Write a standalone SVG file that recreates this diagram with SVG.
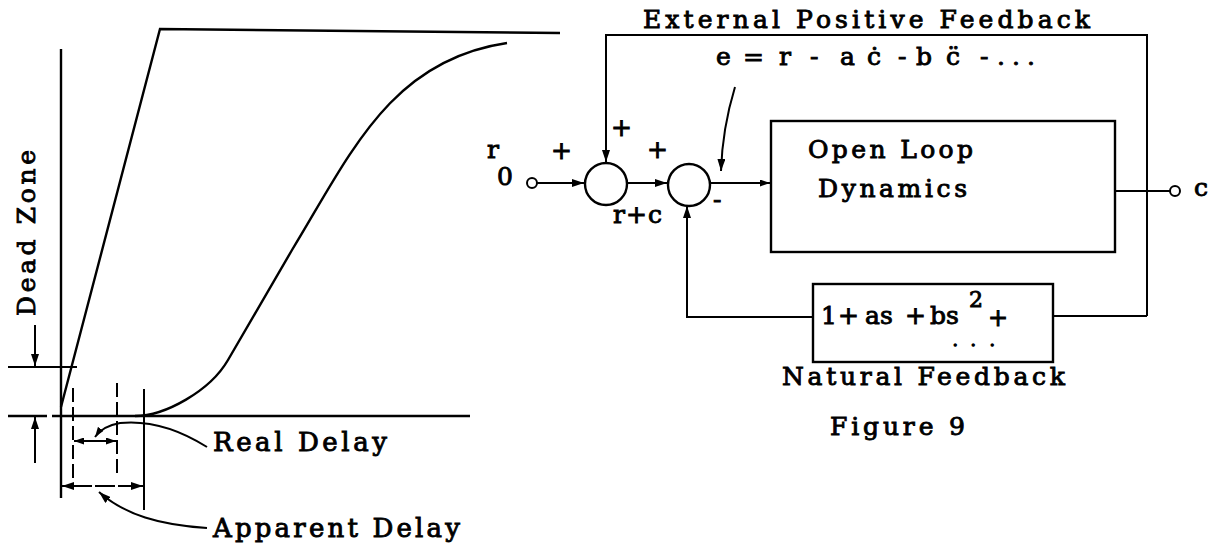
<svg xmlns="http://www.w3.org/2000/svg" width="1217" height="544" viewBox="0 0 1217 544">
<style>
.t{font-family:"DejaVu Serif","Liberation Serif",serif;font-size:25px;fill:#000;stroke:#000;stroke-width:0.9}
.ln{fill:none;stroke:#000;stroke-width:2.4}
.th{fill:none;stroke:#000;stroke-width:2}
.ds{fill:none;stroke:#000;stroke-width:2;stroke-dasharray:14 5}
.box{fill:#fff;stroke:#000;stroke-width:2.4}
</style>
<defs>
<marker id="ah" viewBox="0 0 12 8" refX="12" refY="4" markerWidth="12" markerHeight="8" markerUnits="userSpaceOnUse" orient="auto-start-reverse">
<path d="M0,0 L12,4 L0,8 z" fill="#000"/>
</marker>
<marker id="ahs" viewBox="0 0 10 7" refX="10" refY="3.5" markerWidth="10" markerHeight="7" markerUnits="userSpaceOnUse" orient="auto-start-reverse">
<path d="M0,0 L10,3.5 L0,7 z" fill="#000"/>
</marker>
</defs>
<rect width="1217" height="544" fill="#fff"/>

<!-- Left plot -->
<g id="plot">
<line class="ln" x1="61" y1="49" x2="61" y2="498"/>
<polyline class="ln" points="61,407 160,29 560,33"/>
<path class="ln" d="M135 416 C165 416 210 391 228 360 L292 250 C350 155 390 60 507 43"/>
<line class="ln" x1="52" y1="416" x2="470" y2="416"/>
<line class="ln" x1="8" y1="416" x2="47" y2="416"/>
<line class="th" x1="8" y1="367" x2="77" y2="367"/>
<line class="ds" x1="73" y1="388" x2="73" y2="478"/>
<line class="ds" x1="117" y1="383" x2="117" y2="478"/>
<line class="th" x1="144" y1="389" x2="144" y2="510"/>
</g>
<g id="dead-zone">
<line class="th" x1="35" y1="325" x2="35" y2="366" marker-end="url(#ah)"/>
<line class="th" x1="35" y1="463" x2="35" y2="417" marker-end="url(#ah)"/>
<text class="t" transform="translate(35,233) rotate(-90)" text-anchor="middle" textLength="166" lengthAdjust="spacing">Dead Zone</text>
</g>
<g id="real-delay">
<line class="th" x1="74" y1="441" x2="116" y2="441" marker-start="url(#ahs)" marker-end="url(#ahs)"/>
<path class="th" d="M207 447 C180 430 150 420 120 423 C108 425 100 430 95 437" marker-end="url(#ahs)"/>
<text class="t" x="213" y="451" textLength="174" lengthAdjust="spacing" style="font-size:26px">Real Delay</text>
</g>
<g id="apparent-delay">
<line class="th" x1="62" y1="486" x2="143" y2="486" stroke-dasharray="30 3 20 3 40" marker-start="url(#ah)" marker-end="url(#ah)"/>
<path class="th" d="M207 528 C160 525 125 515 99 492" marker-end="url(#ah)"/>
<text class="t" x="213" y="537" textLength="247" lengthAdjust="spacing" style="font-size:26px">Apparent Delay</text>
</g>

<!-- Block diagram connectors -->
<g id="connectors">
<polyline class="th" points="1147,316 1147,35 606,35 606,162" marker-end="url(#ah)"/>
<line class="th" x1="537" y1="183" x2="584" y2="183" marker-end="url(#ah)"/>
<line class="th" x1="627" y1="183" x2="667" y2="183" marker-end="url(#ah)"/>
<line class="th" x1="710" y1="183" x2="770" y2="183" marker-end="url(#ahs)"/>
<line class="th" x1="1115" y1="191" x2="1170" y2="191"/>
<polyline class="th" points="1147,316 1053,316"/>
<polyline class="th" points="813,317 687,317 687,206" marker-end="url(#ah)"/>
<path class="th" d="M735 87 C728 110 722 140 721 171" marker-end="url(#ah)"/>
</g>

<g id="input-r0">
<circle cx="532" cy="183" r="5" fill="#fff" stroke="#000" stroke-width="2"/>
<text class="t" x="487" y="158">r</text>
<text class="t" x="497" y="185">0</text>
<text class="t" x="551" y="159">+</text>
</g>
<g id="sum1">
<circle cx="606" cy="184" r="21" fill="#fff" stroke="#000" stroke-width="2.4"/>
<text class="t" x="611" y="136">+</text>
<text class="t" x="613" y="223" textLength="49" lengthAdjust="spacing">r+c</text>
</g>
<g id="sum2">
<circle cx="689" cy="185" r="21" fill="#fff" stroke="#000" stroke-width="2.4"/>
<text class="t" x="647" y="158">+</text>
<text class="t" x="713" y="208">-</text>
</g>
<g id="equation">
<text class="t" y="65"><tspan x="716">e</tspan><tspan x="743">=</tspan><tspan x="779">r</tspan><tspan x="810">-</tspan><tspan x="840">a</tspan><tspan x="867">ċ</tspan><tspan x="898">-</tspan><tspan x="916">b</tspan><tspan x="946">c̈</tspan><tspan x="980">-</tspan><tspan x="997">.</tspan><tspan x="1012">.</tspan><tspan x="1027">.</tspan></text>
</g>
<g id="external-feedback-label">
<text class="t" x="643" y="28" textLength="447" lengthAdjust="spacing">External Positive Feedback</text>
</g>
<g id="open-loop">
<rect class="box" x="771" y="121" width="344" height="131"/>
<text class="t" x="808" y="158" textLength="165" lengthAdjust="spacing">Open Loop</text>
<text class="t" x="818" y="197" textLength="149" lengthAdjust="spacing">Dynamics</text>
</g>
<g id="output-c">
<circle cx="1175" cy="191" r="5" fill="#fff" stroke="#000" stroke-width="2"/>
<text class="t" x="1194" y="196">c</text>
</g>
<g id="natural-feedback">
<rect class="box" x="813" y="284" width="240" height="78"/>
<text class="t" y="324"><tspan x="821">1</tspan><tspan x="838">+</tspan><tspan x="865">as</tspan><tspan x="905">+</tspan><tspan x="930">bs</tspan></text>
<text class="t" x="969" y="307" style="font-size:22px">2</text>
<text class="t" x="988" y="326" style="font-size:24px">+</text>
<text class="t" y="346" style="font-size:14px;stroke-width:1.6"><tspan x="953">.</tspan><tspan x="971">.</tspan><tspan x="990">.</tspan></text>
<text class="t" x="782" y="385" textLength="283" lengthAdjust="spacing">Natural Feedback</text>
</g>
<g id="caption">
<text class="t" x="830" y="435" textLength="135" lengthAdjust="spacing">Figure 9</text>
</g>
</svg>
